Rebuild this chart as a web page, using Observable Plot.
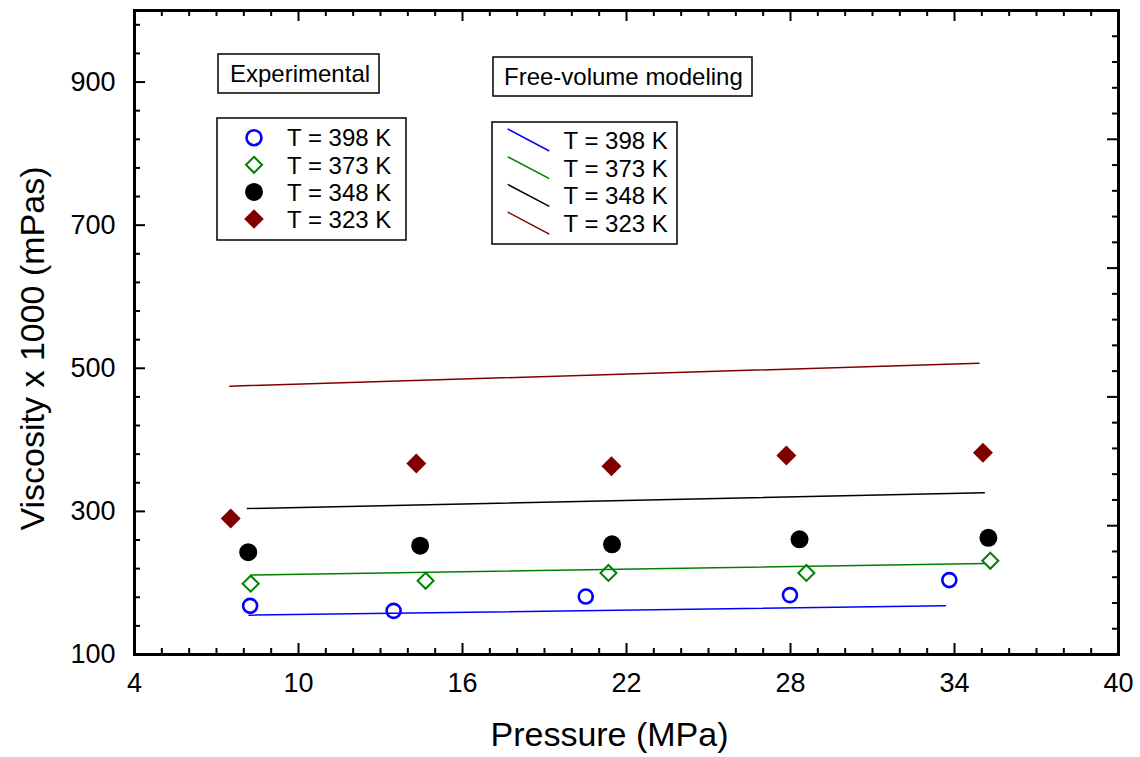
<!DOCTYPE html>
<html><head><meta charset="utf-8">
<script src="https://cdn.jsdelivr.net/npm/d3@7"></script>
<script src="https://cdn.jsdelivr.net/npm/@observablehq/plot@0.6"></script>
<style>
html,body{margin:0;padding:0;background:#fff;}
#chart{position:relative;width:1140px;height:757px;}
</style>
</head><body><div id="chart"></div>
<script>
// ---- text ----
const xTitle = "Pressure (MPa)";
const yTitle = "Viscosity x 1000 (mPas)";
const expTitle = "Experimental";
const modTitle = "Free-volume modeling";
const seriesNames = ["T = 398 K", "T = 373 K", "T = 348 K", "T = 323 K"];
const seriesColors = ["#0000ff", "#008000", "#000000", "#800000"];

// ---- ticks ----
const xMajorTicks = [4, 10, 16, 22, 28, 34, 40];
const xMinorTicks = d3.range(4, 41, 1).filter(v => !xMajorTicks.includes(v));
const yMajorTicks = [100, 300, 500, 700, 900];
const yMinorTicks = d3.range(100, 1001, 40).filter(v => !yMajorTicks.includes(v) && v > 100 && v < 1000);
const rightMajorTicks = [280, 460, 640, 820];
const rightMinorTicks = d3.range(136, 1000, 36).filter(v => !rightMajorTicks.includes(v));

// ---- experimental data (pressure MPa, viscosity x1000 mPas) ----
const p398 = [8.23, 13.48, 20.51, 27.98, 33.81];
const v398 = [168, 161, 181, 183, 204];
const p373 = [8.25, 14.65, 21.34, 28.58, 35.31];
const v373 = [199, 203, 214, 214, 231];
const p348 = [8.16, 14.45, 21.47, 28.33, 35.24];
const v348 = [243, 252, 254, 261, 263];
const p323 = [7.52, 14.31, 21.45, 27.85, 35.04];
const v323 = [290, 367, 363, 378, 382];

// ---- free-volume model lines ----
const mp398 = [8.19, 33.67];
const mv398 = [155, 168];
const mp373 = [8.26, 35.12];
const mv373 = [211, 227];
const mp348 = [8.13, 35.09];
const mv348 = [304, 326];
const mp323 = [7.49, 34.9];
const mv323 = [475, 507];

const toRows = (xs, ys, s) => xs.map((x, i) => ({x, y: ys[i], s}));
const exp = [
  toRows(p398, v398, 0), toRows(p373, v373, 1), toRows(p348, v348, 2), toRows(p323, v323, 3)
];
const mod = [
  toRows(mp398, mv398, 0), toRows(mp373, mv373, 1), toRows(mp348, mv348, 2), toRows(mp323, mv323, 3)
];

const W = 1140, H = 757, ML = 134, MR = 22, MT = 10, MB = 103;
const FW = W - ML - MR, FH = H - MT - MB;
const majorLen = 11, minorLen = 6;
const font = "'Liberation Sans', Arial, Helvetica, sans-serif";

const marks = [];
mod.forEach((rows, i) => marks.push(Plot.line(rows, {x: "x", y: "y", stroke: seriesColors[i], strokeWidth: 1.5})));
marks.push(Plot.dot(exp[0], {x: "x", y: "y", r: 7, stroke: seriesColors[0], strokeWidth: 2.6, fill: "none", symbol: "circle"}));
marks.push(Plot.dot(exp[1], {x: "x", y: "y", r: 7.2, stroke: seriesColors[1], strokeWidth: 2, fill: "none", symbol: "diamond2"}));
marks.push(Plot.dot(exp[2], {x: "x", y: "y", r: 9, fill: seriesColors[2], stroke: "none", symbol: "circle"}));
marks.push(Plot.dot(exp[3], {x: "x", y: "y", r: 9, fill: seriesColors[3], stroke: "none", symbol: "diamond2"}));

// inward ticks on all four sides
marks.push(
  Plot.tickX(xMinorTicks, {x: d => d, insetTop: FH - minorLen, stroke: "black", strokeWidth: 2}),
  Plot.tickX(xMajorTicks, {x: d => d, insetTop: FH - majorLen, stroke: "black", strokeWidth: 2}),
  Plot.tickX(xMinorTicks, {x: d => d, insetBottom: FH - minorLen, stroke: "black", strokeWidth: 2}),
  Plot.tickX(xMajorTicks, {x: d => d, insetBottom: FH - majorLen, stroke: "black", strokeWidth: 2}),
  Plot.tickY(yMinorTicks, {y: d => d, insetRight: FW - minorLen, stroke: "black", strokeWidth: 2}),
  Plot.tickY(yMajorTicks, {y: d => d, insetRight: FW - majorLen, stroke: "black", strokeWidth: 2}),
  Plot.tickY(rightMinorTicks, {y: d => d, insetLeft: FW - minorLen, stroke: "black", strokeWidth: 2}),
  Plot.tickY(rightMajorTicks, {y: d => d, insetLeft: FW - majorLen, stroke: "black", strokeWidth: 2}),
  Plot.frame({stroke: "black", strokeWidth: 3}),
  Plot.axisX(xMajorTicks, {tickSize: 0, tickPadding: 18, label: null}),
  Plot.axisY(yMajorTicks, {tickSize: 0, tickPadding: 19, label: null}),
  Plot.text([xTitle], {frameAnchor: "bottom", text: d => d, dx: -17, dy: 91, lineAnchor: "bottom", textAnchor: "middle", fontSize: 34, fill: "black"}),
  Plot.text([yTitle], {frameAnchor: "left", text: d => d, rotate: -90, dx: -91, dy: 16, lineAnchor: "bottom", textAnchor: "middle", fontSize: 34, fill: "black"})
);

const chart = Plot.plot({
  width: W, height: H,
  marginLeft: ML, marginRight: MR, marginTop: MT, marginBottom: MB,
  x: {domain: [4, 40]},
  y: {domain: [100, 1000]},
  style: {fontFamily: font, fontSize: "27px", background: "white", color: "black"},
  marks
});
document.getElementById("chart").appendChild(chart);

// ---- legends drawn into the same SVG ----
const svg = d3.select(chart);
const lg = svg.append("g").attr("font-family", font).attr("font-size", 24)
  .attr("fill", "black").attr("text-anchor", "start");
function box(x, y, w, h) {
  lg.append("rect").attr("x", x).attr("y", y).attr("width", w).attr("height", h)
    .attr("fill", "white").attr("stroke", "black").attr("stroke-width", 1.5);
}
// Experimental header
box(218, 54, 161, 39);
lg.append("text").attr("x", 230).attr("y", 82).text(expTitle);
// Experimental symbols
box(217, 118, 189, 122);
const diamond = (cx, cy, h) => `M${cx},${cy - h}L${cx + h},${cy}L${cx},${cy + h}L${cx - h},${cy}Z`;
seriesNames.forEach((name, i) => {
  const cy = 137.7 + 27.1 * i, cx = 254;
  if (i === 0) lg.append("circle").attr("cx", cx).attr("cy", cy).attr("r", 7.5).attr("fill", "none").attr("stroke", seriesColors[0]).attr("stroke-width", 2.6);
  if (i === 1) lg.append("path").attr("d", diamond(cx, cy, 8)).attr("fill", "none").attr("stroke", seriesColors[1]).attr("stroke-width", 2);
  if (i === 2) lg.append("circle").attr("cx", cx).attr("cy", cy).attr("r", 9).attr("fill", seriesColors[2]);
  if (i === 3) lg.append("path").attr("d", diamond(cx, cy, 9.8)).attr("fill", seriesColors[3]);
  lg.append("text").attr("x", 287).attr("y", cy + 8.7).text(name);
});
// Model header
box(493, 57, 259, 39);
lg.append("text").attr("x", 504).attr("y", 84.5).text(modTitle);
// Model lines
box(492, 122, 185, 122);
seriesNames.forEach((name, i) => {
  const cy = 140 + 27.7 * i;
  lg.append("line").attr("x1", 507.7).attr("y1", cy - 11).attr("x2", 549.3).attr("y2", cy + 11)
    .attr("stroke", seriesColors[i]).attr("stroke-width", 1.5);
  lg.append("text").attr("x", 563.5).attr("y", cy + 9).text(name);
});
</script>
</body></html>
